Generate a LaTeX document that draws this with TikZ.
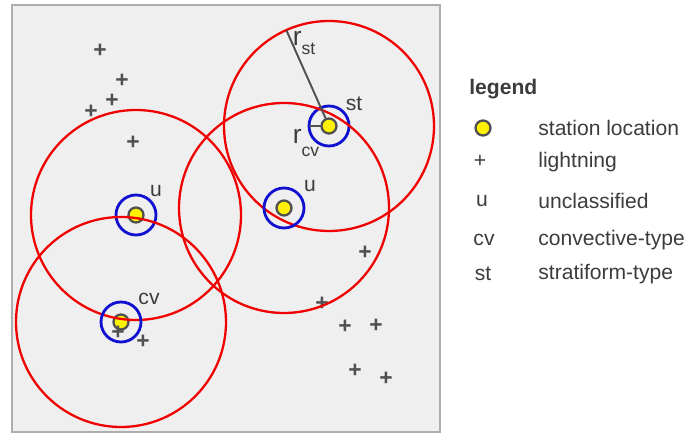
\documentclass[tikz,border=0pt]{standalone}
\usepackage{fontspec}
\setmainfont{Liberation Sans}
\usepackage{tikz}
\usetikzlibrary{calc}
\usepackage{xcolor}
\definecolor{boxfill}{HTML}{EFEFEF}
\definecolor{boxline}{HTML}{ADADAD}
\definecolor{ink}{HTML}{505050}
\definecolor{txt}{HTML}{3C3C3C}
\definecolor{rangered}{HTML}{F00000}
\definecolor{rangeblue}{HTML}{1010D0}

\begin{document}
\begin{tikzpicture}[x=0.02cm,y=0.02cm,font=\fontsize{12}{14}\selectfont,line cap=round,
  station/.style={circle,draw=ink,fill=yellow,line width=1.3pt,minimum size=0.3cm,inner sep=0pt},
  bolt/.style={text=ink,inner sep=0pt,font=\fontsize{13}{14}\selectfont\bfseries},
  tag/.style={text=txt,inner sep=0pt},
  radius/.style={tag,font=\fontsize{15}{15}\selectfont},
  cvring/.style={rangeblue,line width=1.6pt},
  string/.style={rangered,line width=1.3pt}]
\useasboundingbox (0,0) rectangle (688,435);
\draw[boxline,fill=boxfill,line width=1.1pt] (12,3) rectangle (440,430);
% stations
\node[station] (st) at (329,309) {};
\node[station] (ur) at (284,227) {};
\node[station] (ul) at (136,220) {};
\node[station] (cv) at (121,113) {};
% lightning
\foreach \x/\y [count=\i] in {100/384,122/354,112/334,91/323,133/292,365/182,322/131,
  345/108,376/109,355/64,386/56,118/102,143/93}
  \node[bolt] (l\i) at (\x,\y) {+};
% radii
\foreach \s in {st,ur,ul,cv}{
  \draw[cvring] (\s) circle (20);
  \draw[string] (\s) circle (105);
}
\coordinate (rst) at ($(st)+(114:104)$);
\coordinate (rcv) at ($(st)+(180:19)$);
\draw[ink,line width=1.1pt] (st) -- (rst);
\draw[ink,line width=1.1pt] (st) -- (rcv);
\node[radius] (lst) at (304,392) {r\raisebox{-0.7ex}{\fontsize{10}{10}\selectfont st}};
\node[radius] (lcv) at (306,292) {r\raisebox{-0.9ex}{\fontsize{10}{10}\selectfont cv}};
% labels
\node[tag] (tst) at (354,331) {st};
\node[tag] (tur) at (310,249) {u};
\node[tag] (tul) at (156,244) {u};
\node[tag] (tcv) at (149,136) {cv};
% legend
\node[tag,anchor=west,font=\fontsize{12}{14}\selectfont\bfseries] (leg) at (469,346) {legend};
\node[station] (k1) at (483,307) {};
\node[tag] (k2) at (480,274) {+};
\node[tag] (k3) at (482,234) {u};
\node[tag] (k4) at (484,195) {cv};
\node[tag] (k5) at (483,161) {st};
\node[tag,anchor=west] (d1) at (538,307) {station location};
\node[tag,anchor=west] (d2) at (538,273) {lightning};
\node[tag,anchor=west] (d3) at (538,234) {unclassified};
\node[tag,anchor=west] (d4) at (538,195) {convective-type};
\node[tag,anchor=west] (d5) at (538,161) {stratiform-type};
\end{tikzpicture}
\end{document}
